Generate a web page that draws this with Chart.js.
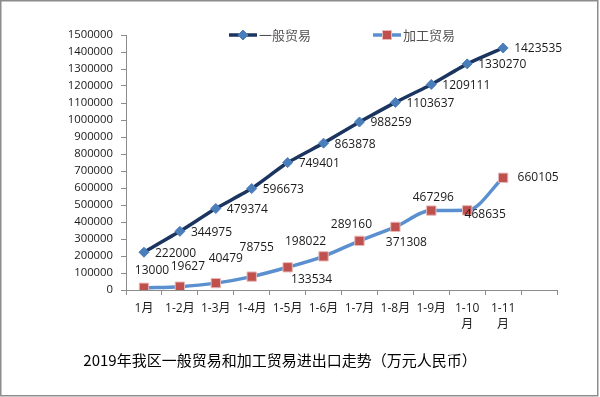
<!DOCTYPE html>
<html>
<head>
<meta charset="utf-8">
<script src="https://cdn.jsdelivr.net/npm/chart.js@4/dist/chart.umd.min.js"></script>
<style>
  html, body { margin: 0; padding: 0; background: #fff; }
  #wrap { width: 600px; height: 397px; }
</style>
</head>
<body>
<div id="wrap"><canvas id="myChart" width="600" height="397"></canvas></div>
<script>
// categories (last one is empty in the source chart)
const months = ['1月', '1-2月', '1-3月', '1-4月', '1-5月', '1-6月', '1-7月', '1-8月', '1-9月', ['1-10', '月'], ['1-11', '月'], ''];
const generalTrade = [222000, 344975, 479374, 596673, 749401, 863878, 988259, 1103637, 1209111, 1330270, 1423535, null];
const processingTrade = [13000, 19627, 40479, 78755, 133534, 198022, 289160, 371308, 467296, 468635, 660105, null];
const seriesNames = ['一般贸易', '加工贸易'];
const chartTitle = '2019年我区一般贸易和加工贸易进出口走势（万元人民币）';

// label placement, [dx, dy] from the point (label centre)
const procLabelOffsets = [[8, -17], [8, -20], [10, -25], [5, -29], [24, 12], [-18, -15], [-8, -16], [11, 16], [2, -13], [18, 4], [35, 0]];

const numFont = "'Open Sans', 'Noto Sans CJK SC', sans-serif";
const cjkFont = "'Noto Sans CJK SC', sans-serif";

const labelsPlugin = {
  id: 'pointLabels',
  afterDatasetsDraw(chart) {
    const ctx = chart.ctx;
    ctx.save();
    ctx.font = '12px ' + numFont;
    ctx.fillStyle = '#1a1a1a';
    ctx.textBaseline = 'middle';
    chart.getDatasetMeta(0).data.forEach((pt, i) => {
      if (generalTrade[i] == null) return;
      ctx.textAlign = 'left';
      ctx.fillText(generalTrade[i], pt.x + 11, pt.y + 1);
    });
    chart.getDatasetMeta(1).data.forEach((pt, i) => {
      if (processingTrade[i] == null) return;
      ctx.textAlign = 'center';
      const o = procLabelOffsets[i];
      ctx.fillText(processingTrade[i], pt.x + o[0], pt.y + o[1]);
    });
    ctx.restore();
  }
};

const decorPlugin = {
  id: 'decor',
  afterDraw(chart) {
    const ctx = chart.ctx;
    ctx.save();
    // outer frame
    ctx.strokeStyle = '#8c8c8c';
    ctx.lineWidth = 1.5;
    ctx.strokeRect(0.75, 0.75, 597, 395);

    // legend
    const drawItem = (x, lineColor, style, fill, border, text) => {
      const y = 35;
      ctx.strokeStyle = lineColor;
      ctx.lineWidth = 3.5;
      ctx.beginPath();
      ctx.moveTo(x, y);
      ctx.lineTo(x + 28, y);
      ctx.stroke();
      ctx.fillStyle = fill;
      ctx.strokeStyle = border;
      ctx.lineWidth = 1;
      ctx.beginPath();
      if (style === 'rect') {
        ctx.rect(x + 14 - 4.5, y - 4.5, 9, 9);
      } else {
        ctx.moveTo(x + 14, y - 5); ctx.lineTo(x + 19, y); ctx.lineTo(x + 14, y + 5); ctx.lineTo(x + 9, y);
        ctx.closePath();
      }
      ctx.fill();
      ctx.stroke();
      ctx.fillStyle = '#505050';
      ctx.font = '13px ' + cjkFont;
      ctx.textAlign = 'left';
      ctx.textBaseline = 'middle';
      ctx.fillText(text, x + 30, y);
    };
    drawItem(229, '#1b3560', 'rectRot', '#4a7ebb', '#4a7ebb', seriesNames[0]);
    drawItem(373, '#5a8fd0', 'rect', '#c0504d', '#e6b9b8', seriesNames[1]);

    // title
    ctx.fillStyle = '#000';
    ctx.font = '15px ' + cjkFont;
    ctx.textAlign = 'center';
    ctx.textBaseline = 'middle';
    ctx.fillText(chartTitle, 280, 360);
    ctx.restore();
  }
};

const ctx1 = document.getElementById('myChart').getContext('2d');
new Chart(ctx1, {
  type: 'line',
  data: {
    labels: months,
    datasets: [{
      label: seriesNames[0],
      data: generalTrade,
      borderColor: '#1b3560',
      borderWidth: 3.5,
      tension: 0.15,
      pointStyle: 'rectRot',
      pointRadius: 5,
      pointBackgroundColor: '#4a7ebb',
      pointBorderColor: '#4a7ebb',
      pointBorderWidth: 1,
      fill: false
    }, {
      label: seriesNames[1],
      data: processingTrade,
      borderColor: '#5a8fd0',
      borderWidth: 3.5,
      cubicInterpolationMode: 'monotone',
      pointStyle: 'rect',
      pointRadius: 6.6,
      pointBackgroundColor: '#c0504d',
      pointBorderColor: '#e6b9b8',
      pointBorderWidth: 1,
      fill: false
    }]
  },
  options: {
    responsive: false,
    animation: false,
    layout: {
      padding: { top: 35, right: 43, bottom: 0, left: 0 }
    },
    plugins: {
      legend: { display: false },
      tooltip: { enabled: false },
      title: { display: false }
    },
    scales: {
      x: {
        offset: true,
        grid: {
          offset: true,
          drawOnChartArea: false,
          drawTicks: true,
          tickLength: 5,
          color: '#8c8c8c'
        },
        border: { display: true, color: '#8c8c8c', width: 1 },
        ticks: {
          autoSkip: false,
          maxRotation: 0,
          minRotation: 0,
          padding: 6,
          color: '#1a1a1a',
          font: { size: 12, family: numFont, lineHeight: 1.3 }
        },
        afterFit(scale) { scale.height = 107; }
      },
      y: {
        min: 0,
        max: 1500000,
        grid: {
          drawOnChartArea: false,
          drawTicks: true,
          tickLength: 5,
          color: '#8c8c8c'
        },
        border: { display: true, color: '#8c8c8c', width: 1 },
        ticks: {
          stepSize: 100000,
          autoSkip: false,
          padding: 8,
          color: '#1a1a1a',
          font: { size: 11.3, family: numFont },
          callback: v => v
        },
        afterFit(scale) { scale.width = 126; }
      }
    }
  },
  plugins: [labelsPlugin, decorPlugin]
});
</script>
</body>
</html>
